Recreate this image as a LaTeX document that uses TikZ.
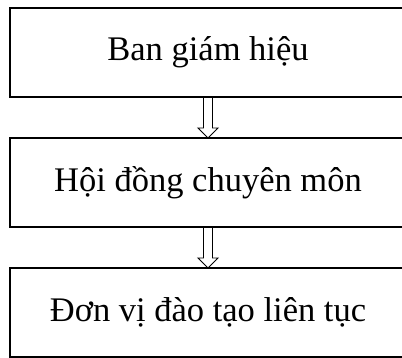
\documentclass[tikz,border=0pt]{standalone}
\usepackage{fontspec}
\setmainfont{Liberation Serif}
\usetikzlibrary{positioning, calc}

\tikzset{
    box/.style={draw, line width=1.5pt, outer sep=0pt, minimum width=396pt, minimum height=89pt,
        font=\fontsize{34.5}{41}\selectfont},
    hollowarrow/.style={line width=0.9pt, to path={
        ($(\tikztostart)+(-4.5,0)$) -- ($(\tikztotarget)+(-4.5,-10)$) -- ($(\tikztotarget)+(-10,-10)$)
        -- (\tikztotarget) -- ($(\tikztotarget)+(10,-10)$) -- ($(\tikztotarget)+(4.5,-10)$)
        -- ($(\tikztostart)+(4.5,0)$)}}
}

\begin{document}
\begin{tikzpicture}[x=1pt, y=-1pt, node distance=41pt]
    \useasboundingbox (0,0) rectangle (402,358);
    \clip (0,0) rectangle (402,358);
    \node[box] (ban) at (208,52.5) {Ban giám hiệu};
    \node[box, below=of ban] (hoi) {Hội đồng chuyên môn};
    \node[box, below=of hoi] (don) {Đơn vị đào tạo liên tục};

    \path
    (ban.south) edge[hollowarrow] (hoi.north)
    (hoi.south) edge[hollowarrow] (don.north);
\end{tikzpicture}
\end{document}
